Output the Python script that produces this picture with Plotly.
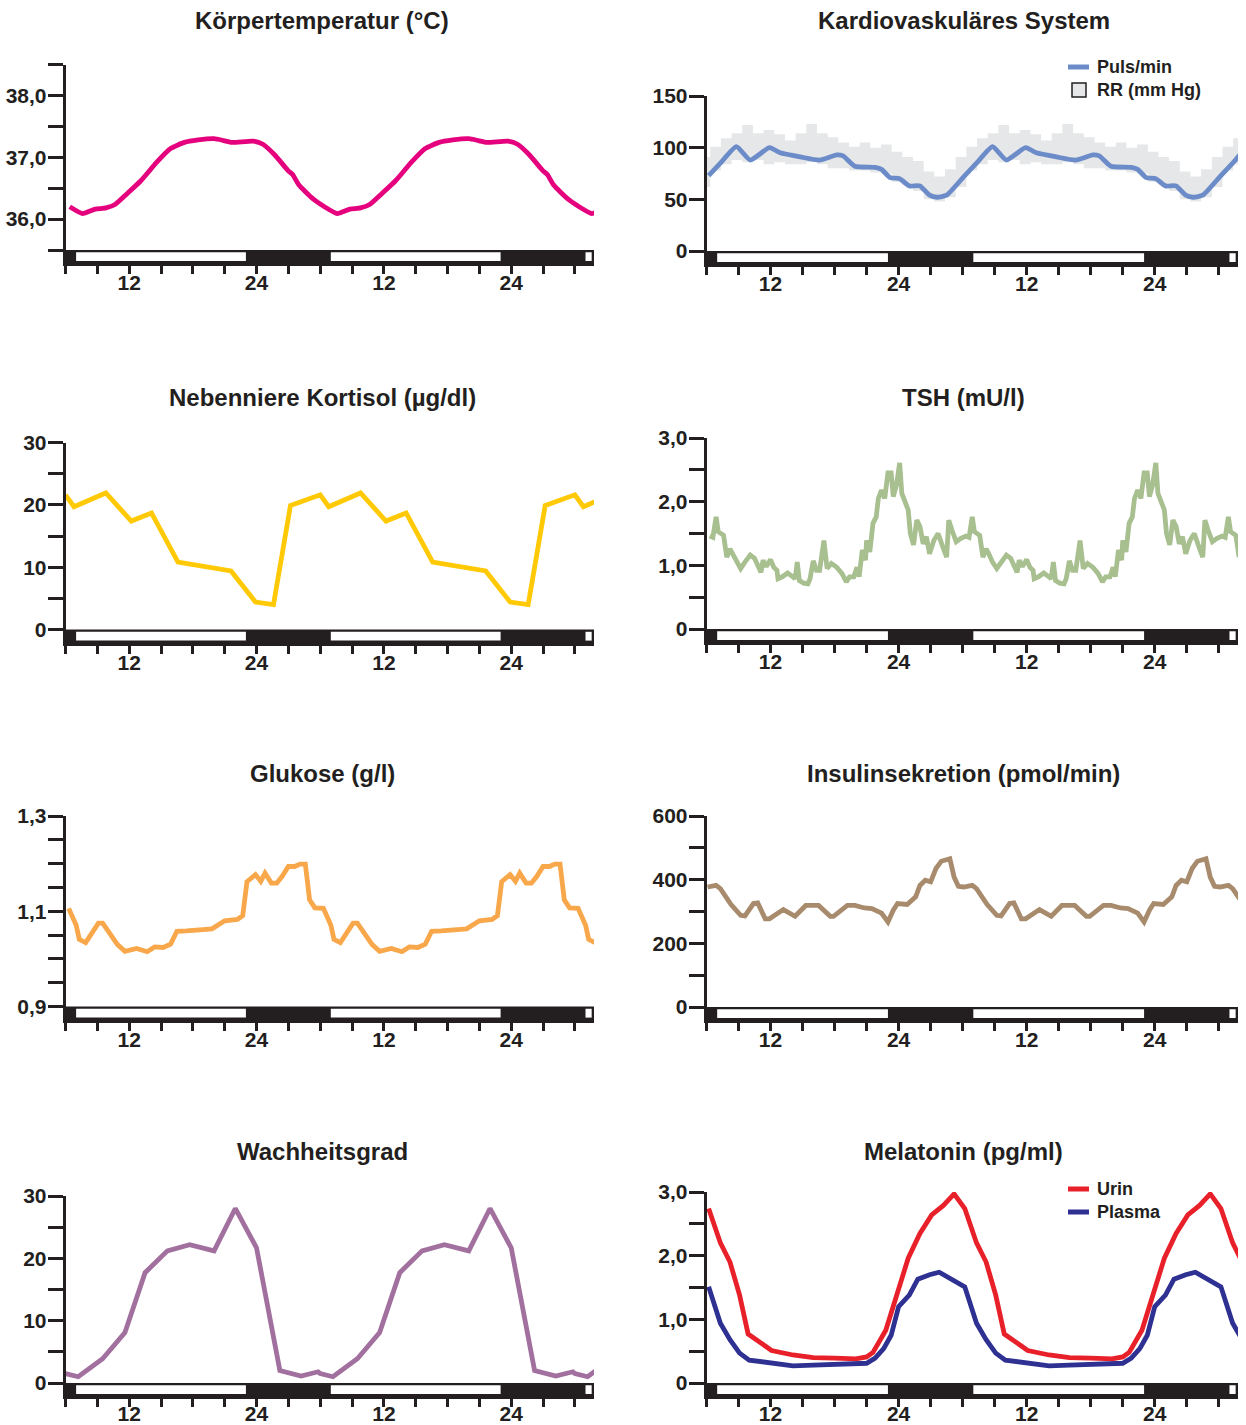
import plotly.graph_objects as go

# ---------------- data (one 24 h profile, double-plotted over 2 days) ----------------
HOURS_TICKS = [6, 9, 12, 15, 18, 21, 24, 27, 30, 33, 36, 39, 42, 45, 48, 51, 54]
HOURS_TEXT = ["", "", "12", "", "", "", "24", "", "", "", "12", "", "", "", "24", "", ""]
LIGHT_ON = [7, 31, 55]
LIGHT_OFF = [23, 47, 71]

TEMP_H = [6.4, 7.6, 8.8, 9.8, 10.7, 11.8, 13.1, 14.6, 15.9, 17.2, 18.5, 20.0, 20.9, 21.7,
          23.7, 24.6, 25.7, 27.0, 27.4, 28.0, 29.3]
TEMP_V = [36.20, 36.09, 36.16, 36.18, 36.24, 36.41, 36.62, 36.92, 37.14, 37.24, 37.28, 37.30,
          37.27, 37.24, 37.26, 37.21, 37.04, 36.78, 36.72, 36.55, 36.33]

PULSE_H = [6.2, 7.3, 8.8, 10.1, 11.9, 12.9, 14.8, 16.6, 18.2, 18.8, 19.9, 21.8, 22.4, 23.2,
           24.1, 25.0, 26.0, 26.9, 27.6, 28.5]
PULSE_V = [73, 85, 101, 88, 100, 95, 91, 88, 93, 92, 82, 81, 79, 71, 70, 63, 63, 54, 52, 54]

RR_H = [6.35, 7.35, 8.35, 9.35, 10.35, 11.35, 12.35, 13.35, 14.35, 15.35, 16.35, 17.35,
        18.35, 19.35, 20.35, 21.35, 22.35, 23.35, 24.35, 25.35, 26.35, 27.35, 28.35, 29.35]
RR_HIGH = [101, 109, 114, 122, 114, 117, 113, 107, 114, 123, 114, 110, 105, 101, 105, 100,
           103, 96, 91, 87, 77, 72, 79, 91]
RR_LOW = [78, 84, 88, 86, 88, 84, 86, 84, 84, 86, 84, 80, 80, 78, 78, 76, 75, 67, 64, 58,
          50, 48, 52, 62]

CORT_H = [6.0, 6.8, 9.8, 12.2, 14.1, 16.6, 21.6, 23.9, 25.6, 27.2]
CORT_V = [21.6, 19.7, 21.9, 17.4, 18.7, 10.8, 9.4, 4.4, 4.0, 19.9]

TSH_H = [6.3, 6.6, 6.9, 7.1, 7.6, 7.9, 8.2, 8.45, 8.8, 9.2, 9.6, 10.1, 10.5, 10.9, 11.1,
         11.3, 11.6, 12.0, 12.3, 12.6, 12.7, 13.1, 13.6, 14.0, 14.3, 14.5, 14.7, 15.1, 15.5,
         15.7, 16.0, 16.3, 16.6, 17.0, 17.3, 17.7, 18.2, 18.7, 19.1, 19.4, 19.8, 20.1, 20.3,
         20.6, 20.9, 21.0, 21.3, 21.6, 21.9, 22.1, 22.4, 22.7, 23.0, 23.3, 23.5, 23.8, 24.1,
         24.3, 24.6, 24.9, 25.1, 25.4, 25.7, 26.0, 26.3, 26.6, 26.9, 27.3, 27.7, 27.9, 28.2,
         28.5, 28.7, 29.0, 29.4, 29.8]
TSH_V = [1.46, 1.44, 1.76, 1.53, 1.47, 1.13, 1.26, 1.18, 1.05, 0.95, 1.05, 1.16, 1.11, 0.97,
         0.89, 1.08, 0.98, 1.09, 0.97, 0.92, 0.79, 0.82, 0.88, 0.83, 0.79, 1.05, 0.76, 0.72,
         0.71, 0.79, 1.07, 0.92, 0.92, 1.39, 0.95, 1.03, 0.97, 0.87, 0.74, 0.82, 0.82, 0.97,
         0.82, 1.24, 1.08, 1.39, 1.21, 1.66, 1.76, 2.05, 2.18, 2.05, 2.45, 2.45, 2.08, 2.26,
         2.61, 2.13, 1.97, 1.87, 1.50, 1.32, 1.71, 1.61, 1.34, 1.45, 1.18, 1.39, 1.50, 1.39,
         1.26, 1.13, 1.71, 1.55, 1.37, 1.42]

GLUC_H = [6.3, 7.0, 7.3, 7.9, 9.1, 9.5, 10.9, 11.6, 12.7, 13.7, 14.4, 15.2, 15.9, 16.5, 17.4,
          18.9, 19.8, 21.0, 22.2, 22.7, 23.1, 23.9, 24.4, 24.8, 25.4, 25.9, 26.4, 27.0, 27.6,
          28.1, 28.6, 29.0, 29.5]
GLUC_V = [1.106, 1.071, 1.041, 1.034, 1.075, 1.075, 1.030, 1.016, 1.022, 1.015, 1.025, 1.024,
          1.031, 1.058, 1.059, 1.060, 1.063, 1.080, 1.083, 1.091, 1.162, 1.177, 1.163, 1.180,
          1.159, 1.159, 1.173, 1.194, 1.194, 1.199, 1.199, 1.124, 1.107]

INS_H = [6.1, 6.9, 7.3, 8.3, 9.2, 9.6, 10.4, 10.8, 11.5, 11.9, 13.2, 14.3, 15.3, 16.5, 17.6,
         17.9, 19.2, 19.9, 20.8, 21.5, 22.4, 23.0, 23.5, 23.9, 24.8, 25.6, 26.0, 26.5, 27.0,
         27.5, 28.0, 28.8, 29.2, 29.6]
INS_V = [377, 382, 372, 322, 288, 286, 325, 327, 277, 277, 306, 285, 319, 319, 285, 285, 319,
         319, 311, 309, 295, 267, 304, 325, 322, 346, 382, 398, 393, 435, 458, 466, 408, 379]

WACH_H = [6.0, 7.2, 9.5, 11.6, 13.5, 15.6, 17.7, 20.0, 22.0, 24.0, 26.2, 28.2, 29.8]
WACH_V = [1.5, 1.0, 3.9, 8.1, 17.7, 21.2, 22.2, 21.2, 28.0, 21.7, 2.0, 1.1, 1.8]

URIN_H = [6.2, 7.3, 8.2, 9.1, 9.9, 12.1, 14.1, 16.0, 18.0, 20.0, 21.0, 21.6, 22.8, 23.9, 24.9,
          26.0, 27.1, 28.2, 29.2]
URIN_V = [2.74, 2.20, 1.90, 1.38, 0.77, 0.51, 0.44, 0.40, 0.39, 0.38, 0.41, 0.48, 0.83, 1.41,
          1.96, 2.35, 2.64, 2.79, 2.97]
PLASMA_H = [6.2, 7.3, 8.2, 9.1, 10.0, 12.1, 14.1, 16.0, 18.5, 21.0, 21.8, 22.6, 23.3, 24.0,
            25.0, 25.8, 26.9, 27.8]
PLASMA_V = [1.51, 0.94, 0.68, 0.47, 0.36, 0.32, 0.27, 0.28, 0.29, 0.31, 0.39, 0.54, 0.75, 1.20,
            1.38, 1.63, 1.70, 1.74]

# ---------------- layout helpers ----------------
W, H = 1246, 1425
X_MIN, X_MAX = 6.0, 55.8
COL_PX = [(65.5, 594.0), (706.5, 1238.0)]
BAR_PX = 13.4
INK = "#231F20"
FAM = "Liberation Sans, Arial, Helvetica, sans-serif"
TICK_FONT = dict(family=FAM, size=21, color=INK, weight="bold")


def tile(h, v, days=(0, 1, 2)):
    xs, ys = [], []
    for k in days:
        for a, b in zip(h, v):
            xs.append(a + 24 * k)
            ys.append(b)
    return xs, ys


def frange(a, b, s):
    out, x = [], a
    while x <= b + 1e-9:
        out.append(round(x, 4))
        x += s
    return out


PANELS = [
    dict(title="Körpertemperatur (°C)", col=0, row_y=20, top_px=64.5, base_px=250.0,
         top=38.5, base=35.5, ticks=frange(35.5, 38.5, 0.5),
         labels=["", "36,0", "", "37,0", "", "38,0", ""]),
    dict(title="Kardiovaskuläres System", col=1, row_y=20, top_px=96.0, base_px=251.0,
         top=150, base=0, ticks=[0, 50, 100, 150], labels=["0", "50", "100", "150"]),
    dict(title="Nebenniere Kortisol (µg/dl)", col=0, row_y=397, top_px=442.5, base_px=629.5,
         top=30, base=0, ticks=frange(0, 30, 5), labels=["0", "", "10", "", "20", "", "30"]),
    dict(title="TSH (mU/l)", col=1, row_y=397, top_px=438.0, base_px=629.0,
         top=3.0, base=0, ticks=frange(0, 3, 0.5), labels=["0", "", "1,0", "", "2,0", "", "3,0"]),
    dict(title="Glukose (g/l)", col=0, row_y=774, top_px=816.0, base_px=1006.5,
         top=1.3, base=0.9, ticks=frange(0.9, 1.3, 0.05),
         labels=["0,9", "", "", "", "1,1", "", "", "", "1,3"]),
    dict(title="Insulinsekretion (pmol/min)", col=1, row_y=774, top_px=816.0, base_px=1007.0,
         top=600, base=0, ticks=frange(0, 600, 100), labels=["0", "", "200", "", "400", "", "600"]),
    dict(title="Wachheitsgrad", col=0, row_y=1151, top_px=1196.0, base_px=1383.0,
         top=30, base=0, ticks=frange(0, 30, 5), labels=["0", "", "10", "", "20", "", "30"]),
    dict(title="Melatonin (pg/ml)", col=1, row_y=1151, top_px=1192.0, base_px=1383.0,
         top=3.0, base=0, ticks=frange(0, 3, 0.5), labels=["0", "", "1,0", "", "2,0", "", "3,0"]),
]
TITLE_X = [322, 963.5]

fig = go.Figure()
layout = {}
shapes = []
annotations = []

for i, p in enumerate(PANELS):
    n = i + 1
    sfx = "" if n == 1 else str(n)
    x0px, x1px = COL_PX[p["col"]]
    upp = (p["top"] - p["base"]) / (p["base_px"] - p["top_px"])  # units per pixel
    ymin = p["base"] - BAR_PX * upp
    bottom_row = i >= 6
    layout["xaxis" + sfx] = dict(
        domain=[x0px / W, x1px / W], range=[X_MIN, X_MAX], anchor="y" + sfx,
        tickmode="array", tickvals=HOURS_TICKS, ticktext=HOURS_TEXT,
        ticks="outside", ticklen=8, tickwidth=2.5, tickcolor=INK,
        ticklabelstandoff=-11 if bottom_row else -9,
        showline=True, linewidth=2.5, linecolor=INK, automargin=False,
        showgrid=False, zeroline=False, tickfont=TICK_FONT, fixedrange=True)
    layout["yaxis" + sfx] = dict(
        domain=[1 - (p["base_px"] + BAR_PX) / H, 1 - p["top_px"] / H],
        range=[ymin, p["top"]], anchor="x" + sfx,
        tickmode="array", tickvals=p["ticks"], ticktext=p["labels"],
        ticks="outside", ticklen=15, tickwidth=2.5, tickcolor=INK, ticklabelstandoff=-3,
        showline=True, linewidth=2.5, linecolor=INK, automargin=False,
        showgrid=False, zeroline=False, tickfont=TICK_FONT, fixedrange=True)
    # light / dark bar
    xr, yr = "x" + sfx, "y" + sfx
    shapes.append(dict(type="rect", xref=xr, yref=yr, x0=X_MIN, x1=X_MAX, y0=ymin, y1=p["base"],
                       fillcolor=INK, line=dict(width=0), layer="above"))
    inset = 2.3 * upp
    for on, off in zip(LIGHT_ON, LIGHT_OFF):
        if on >= X_MAX:
            continue
        shapes.append(dict(type="rect", xref=xr, yref=yr, x0=on, x1=min(off, X_MAX - 0.22),
                           y0=ymin + inset, y1=p["base"] - inset,
                           fillcolor="white", line=dict(width=0), layer="above"))
    annotations.append(dict(text=p["title"], x=TITLE_X[p["col"]] / W, y=1 - p["row_y"] / H,
                            xref="paper", yref="paper", showarrow=False,
                            xanchor="center", yanchor="middle",
                            font=dict(family=FAM, size=24, color=INK, weight="bold")))


def add_line(h, v, color, n, shape="linear", days=(0, 1, 2)):
    xs, ys = tile(h, v, days)
    sfx = "" if n == 1 else str(n)
    fig.add_trace(go.Scatter(x=xs, y=ys, mode="lines", xaxis="x" + sfx, yaxis="y" + sfx,
                             line=dict(color=color, width=4.8, shape=shape,
                                       smoothing=0.5 if shape == "spline" else None),
                             hoverinfo="skip", showlegend=False))


C_TEMP = "#E5007E"
C_PULSE = "#6B8CC9"
C_RR = "#E6E7E8"
C_CORT = "#FFCA05"
C_TSH = "#A8BF90"
C_GLUC = "#F9A74B"
C_INS = "#A88B6C"
C_WACH = "#A2709F"
C_URIN = "#E8202A"
C_PLASMA = "#2E3192"

add_line(TEMP_H, TEMP_V, C_TEMP, 1, shape="spline")

# RR band (stepped)
rx, rlo = tile(RR_H, RR_LOW, days=(-1, 0, 1, 2))
_, rhi = tile(RR_H, RR_HIGH, days=(-1, 0, 1, 2))
fig.add_trace(go.Scatter(x=rx, y=rlo, mode="lines", xaxis="x2", yaxis="y2",
                         line=dict(width=0, shape="hv", color=C_RR), hoverinfo="skip",
                         showlegend=False))
fig.add_trace(go.Scatter(x=rx, y=rhi, mode="lines", xaxis="x2", yaxis="y2", fill="tonexty",
                         fillcolor=C_RR, line=dict(width=0, shape="hv", color=C_RR),
                         hoverinfo="skip", showlegend=False))
add_line(PULSE_H, PULSE_V, C_PULSE, 2, shape="spline")

add_line(CORT_H, CORT_V, C_CORT, 3)
add_line(TSH_H, TSH_V, C_TSH, 4)
add_line(GLUC_H, GLUC_V, C_GLUC, 5)
add_line(INS_H, INS_V, C_INS, 6)
add_line(WACH_H, WACH_V, C_WACH, 7)
add_line(URIN_H, URIN_V, C_URIN, 8)
add_line(PLASMA_H, PLASMA_V, C_PLASMA, 8)


# ---------------- hand-drawn legends ----------------
def px_x(v):
    return v / W


def px_y(v):
    return 1 - v / H


LEG_FONT = dict(family=FAM, size=18, color=INK, weight="bold")


def legend_line(y, color, text):
    shapes.append(dict(type="line", xref="paper", yref="paper", x0=px_x(1068), x1=px_x(1089),
                       y0=px_y(y), y1=px_y(y), line=dict(color=color, width=5)))
    annotations.append(dict(text=text, x=px_x(1095), y=px_y(y), xref="paper", yref="paper",
                            showarrow=False, xanchor="left", yanchor="middle", font=LEG_FONT))


legend_line(67, C_PULSE, "Puls/min")
shapes.append(dict(type="rect", xref="paper", yref="paper", x0=px_x(1072), x1=px_x(1086),
                   y0=px_y(97), y1=px_y(83), fillcolor=C_RR, line=dict(color=INK, width=1.5)))
annotations.append(dict(text="RR (mm Hg)", x=px_x(1095), y=px_y(90), xref="paper", yref="paper",
                        showarrow=False, xanchor="left", yanchor="middle", font=LEG_FONT))
legend_line(1189, C_URIN, "Urin")
legend_line(1212, C_PLASMA, "Plasma")

fig.update_layout(
    template="none",
    width=W, height=H, autosize=False,
    margin=dict(l=0, r=0, t=0, b=0, pad=0, autoexpand=False),
    paper_bgcolor="white", plot_bgcolor="white",
    showlegend=False, shapes=shapes, annotations=annotations,
    font=dict(family=FAM, color=INK),
    **layout)

fig.write_html(
    "out.html",
    config={"displayModeBar": False},
    post_script="document.body.style.margin='0';document.body.style.overflow='hidden';",
)
